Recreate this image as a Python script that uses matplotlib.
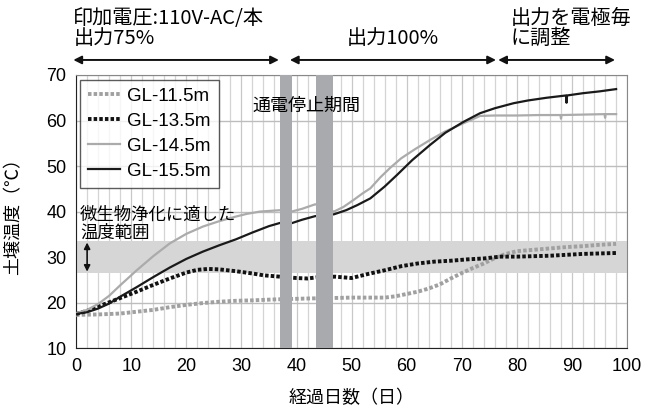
import matplotlib
matplotlib.use("Agg")
import matplotlib.pyplot as plt
from matplotlib.ticker import MultipleLocator

plt.rcParams['font.family'] = ['Liberation Sans', 'Noto Sans CJK JP', 'DejaVu Sans']
jp = ['Noto Sans CJK JP', 'DejaVu Sans']

# GL-11.5m (gray dotted)
d115 = [0, 4, 8, 11, 14, 17, 20, 23, 26, 29, 32, 36, 42, 50, 56, 58, 60, 62, 64, 66, 68, 70,
        72, 74, 76, 78, 80, 83, 86, 89, 92, 95, 98]
t115 = [17.3, 17.4, 17.6, 18.0, 18.4, 19.0, 19.5, 19.9, 20.2, 20.4, 20.5, 20.7, 20.9, 21.1,
        21.1, 21.4, 21.9, 22.4, 23.1, 24.0, 25.3, 26.5, 27.6, 28.6, 29.8, 30.7, 31.3, 31.6,
        31.9, 32.2, 32.4, 32.7, 32.9]

# GL-13.5m (black dotted)
d135 = [0, 2, 5, 8, 11, 14, 17, 20, 22, 24, 26, 29, 32, 34, 36, 40, 42, 44, 47, 50, 53, 56,
        59, 62, 65, 68, 71, 74, 77, 80, 86, 92, 98]
t135 = [17.5, 18.2, 19.6, 21.0, 22.4, 23.9, 25.3, 26.6, 27.2, 27.4, 27.3, 26.9, 26.4, 26.0,
        25.8, 25.4, 25.3, 25.6, 25.7, 25.4, 26.3, 27.1, 28.0, 28.6, 29.0, 29.2, 29.5, 29.7,
        30.1, 30.1, 30.3, 30.7, 30.9]

# GL-14.5m (gray solid)
d145 = [0, 2, 4, 6, 8, 11, 14, 17, 20, 23, 26, 29, 31, 33.4, 37, 39.1, 41, 43.4, 46.8, 48.5,
        50.3, 52, 53.4, 55.2, 57, 59, 61.5, 64.2, 67, 70.3, 72, 73.3, 76, 80, 84, 87.9, 88,
        88.1, 92, 95.9, 96, 96.1, 98]
t145 = [17.7, 18.4, 19.7, 21.5, 23.8, 27.1, 30.2, 33.0, 35.1, 36.7, 37.9, 38.9, 39.5, 40.0,
        40.3, 40.0, 40.6, 41.6, 40.0, 41.0, 42.5, 44.0, 45.1, 47.5, 49.6, 51.7, 53.7, 55.7,
        57.6, 59.4, 60.3, 61.0, 61.1, 61.1, 61.2, 61.2, 60.4, 61.2, 61.3, 61.4, 60.6, 61.4,
        61.4]

# GL-15.5m (black solid)
d155 = [0, 2, 4, 6, 8, 11, 14, 17, 20, 23, 26, 29, 32, 35, 37, 39, 41, 43.4, 46.8, 49, 51,
        53.4, 56, 58.2, 61, 64.2, 67, 70.3, 73.3, 76, 79.4, 82, 85.4, 88.9, 89, 89.1, 92, 95,
        98]
t155 = [17.5, 17.9, 18.7, 19.8, 21.3, 23.4, 25.6, 27.7, 29.6, 31.2, 32.6, 33.9, 35.4, 36.8,
        37.5, 37.4, 38.2, 39.0, 39.4, 40.3, 41.4, 42.9, 45.5, 48.0, 51.3, 54.6, 57.3, 59.7,
        61.6, 62.7, 63.8, 64.4, 65.0, 65.5, 63.9, 65.5, 66.0, 66.4, 66.9]

stop_periods = [(37.0, 39.1), (43.6, 46.7)]
band = (26.5, 33.5)

fig = plt.figure(figsize=(6.56, 4.12), dpi=100)
ax = fig.add_axes([0.116, 0.155, 0.840, 0.663])

ax.set_xlim(0, 100)
ax.set_ylim(10, 70)
ax.xaxis.set_major_locator(MultipleLocator(10))
ax.xaxis.set_minor_locator(MultipleLocator(2))
ax.yaxis.set_major_locator(MultipleLocator(10))
ax.grid(which='minor', axis='x', color='#d4d4d4', lw=0.9, zorder=0)
ax.grid(which='major', axis='x', color='#c8c8c8', lw=0.9, zorder=0)
ax.grid(which='major', axis='y', color='#bdbdbd', lw=1.0, zorder=0)
ax.set_axisbelow(True)
ax.tick_params(which='both', length=0, labelsize=13, pad=7)

ax.axhspan(band[0], band[1], color='#d6d6d6', lw=0, zorder=1)

ax.plot(d115, t115, color='#a0a0a0', lw=2.8, ls=(0, (0.9, 0.55)), zorder=3, label='GL-11.5m')
ax.plot(d135, t135, color='#111111', lw=2.8, ls=(0, (0.9, 0.55)), zorder=3, label='GL-13.5m')
ax.plot(d145, t145, color='#ababab', lw=1.6, zorder=3, label='GL-14.5m',
        solid_joinstyle='round')
ax.plot(d155, t155, color='#1a1a1a', lw=1.6, zorder=3, label='GL-15.5m',
        solid_joinstyle='round')

for a, b in stop_periods:
    ax.axvspan(a, b, color='#a9aaad', lw=0, zorder=4)

for s in ['left', 'bottom']:
    ax.spines[s].set_color('#222222')
for s in ['top', 'right']:
    ax.spines[s].set_color('#888888')

leg = ax.legend(loc='upper left', bbox_to_anchor=(0.007, 0.982), borderaxespad=0,
                fontsize=13.5, frameon=True, fancybox=False, edgecolor='#333333',
                handlelength=1.7, handletextpad=0.4, labelspacing=0.42, borderpad=0.42)
leg.get_frame().set_linewidth(1.0)
leg.set_zorder(6)

ax.set_xlabel('経過日数（日）', fontsize=13, family=jp)
ax.set_ylabel('土壌温度（℃）', fontsize=13, family=jp)
ax.xaxis.set_label_coords(0.5, -0.15)
ax.yaxis.set_label_coords(-0.098, 0.5)

tr = ax.get_xaxis_transform()
arrow = dict(arrowstyle='<|-|>', color='#111111', lw=1.4, mutation_scale=12,
             shrinkA=0, shrinkB=0)
for x0, x1 in [(-0.5, 36.8), (38.8, 76.2), (76.6, 97.8)]:
    ax.annotate('', xy=(x1, 1.055), xytext=(x0, 1.055), xycoords=tr, textcoords=tr,
                arrowprops=arrow, annotation_clip=False)

ax.text(-0.5, 1.095, '印加電圧:110V-AC/本\n出力75%', transform=tr, fontsize=14.5,
        ha='left', va='bottom', linespacing=0.95, family=jp)
ax.text(57.5, 1.095, '出力100%', transform=tr, fontsize=14.5, ha='center', va='bottom',
        family=jp)
ax.text(78.8, 1.095, '出力を電極毎\nに調整', transform=tr, fontsize=14.5,
        ha='left', va='bottom', linespacing=0.95, family=jp)

ax.text(32.1, 63.2, '通電停止期間', fontsize=13, ha='left', va='center', zorder=5, family=jp)
ax.text(0.7, 37.4, '微生物浄化に適した\n温度範囲', fontsize=12.5, ha='left', va='center',
        linespacing=1.0, zorder=5, family=jp)
ax.annotate('', xy=(2.0, 26.8), xytext=(2.0, 33.2),
            arrowprops=dict(arrowstyle='<|-|>', color='#111111', lw=1.2,
                            mutation_scale=9, shrinkA=0, shrinkB=0), zorder=5)

fig.savefig('out.png', dpi=100)
